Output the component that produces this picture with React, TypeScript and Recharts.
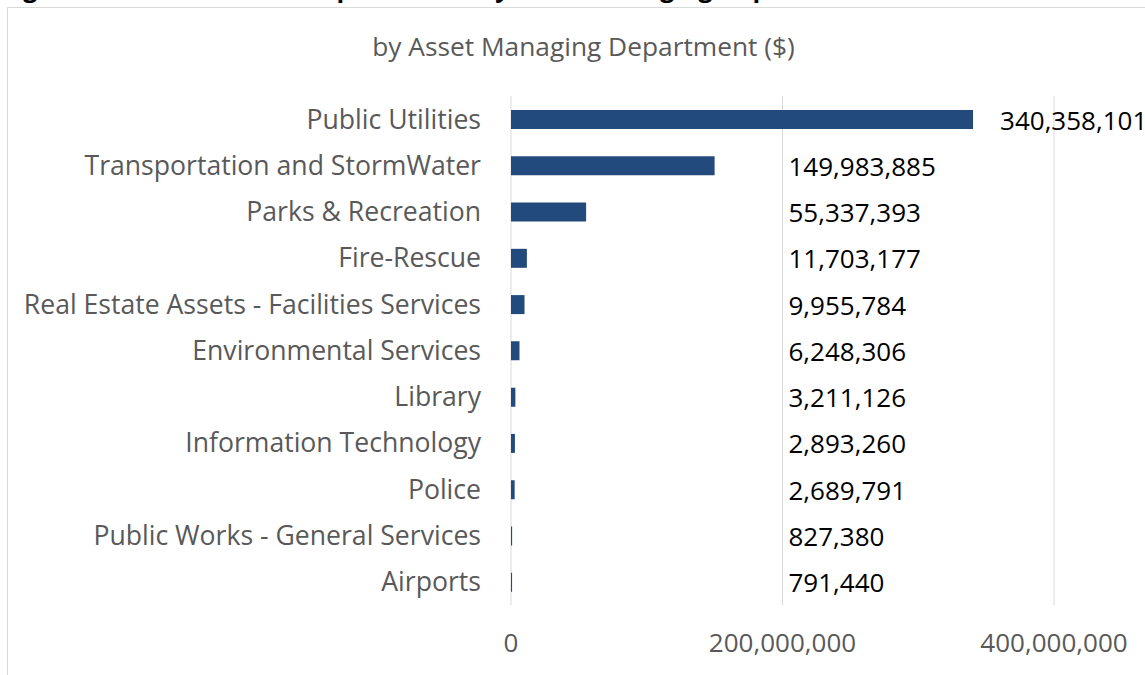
import React from "react";
import { BarChart, Bar, XAxis, YAxis, CartesianGrid, LabelList } from "recharts";

const departments = [
  "Public Utilities",
  "Transportation and StormWater",
  "Parks & Recreation",
  "Fire-Rescue",
  "Real Estate Assets - Facilities Services",
  "Environmental Services",
  "Library",
  "Information Technology",
  "Police",
  "Public Works - General Services",
  "Airports",
];

const amounts = [
  340358101, 149983885, 55337393, 11703177, 9955784, 6248306, 3211126, 2893260,
  2689791, 827380, 791440,
];

const xTicks = [0, 200000000, 400000000];

const data = departments.map((name, i) => ({ name, value: amounts[i] }));

const FONT = "'Open Sans', 'Noto Sans', sans-serif";
const GREY = "#595959";
const fmt = (v: number) => v.toLocaleString("en-US");

const ValueLabel = (props: any) => {
  const { x, y, width, height, value, index } = props;
  const pxPerUnit = width / value;
  const lx = index === 0 ? x + width + 27 : x + xTicks[1] * pxPerUnit + 6;
  return (
    <text
      x={lx}
      y={y + height / 2}
      dominantBaseline="central"
      fontFamily={FONT}
      fontSize={26}
      fill="#000000"
    >
      {fmt(value)}
    </text>
  );
};

export default function App() {
  return (
    <div
      style={{
        position: "absolute",
        left: 0,
        top: 0,
        width: 1145,
        height: 675,
        overflow: "hidden",
        background: "#ffffff",
      }}
    >
      <div
        style={{
          position: "absolute",
          left: 2,
          top: -28,
          fontFamily: FONT,
          fontWeight: 700,
          fontSize: 25,
          lineHeight: "30px",
          whiteSpace: "nowrap",
          color: "#000",
        }}
      >
        Figure 9: Estimated Cost Expenditures by Asset Managing Department
      </div>
      <div
        style={{
          position: "absolute",
          left: 7,
          top: 7,
          width: 1300,
          height: 900,
          border: "1px solid #d9d9d9",
        }}
      />
      <div
        style={{
          position: "absolute",
          left: 0,
          width: 1167,
          top: 28,
          textAlign: "center",
          fontFamily: FONT,
          fontSize: 26.3,
          color: GREY,
          whiteSpace: "nowrap",
        }}
      >
        by Asset Managing Department ($)
      </div>
      <div style={{ position: "absolute", left: 0, top: 0 }}>
        <BarChart
          width={1145}
          height={675}
          data={data}
          layout="vertical"
          margin={{ top: 96, right: 91, bottom: 40, left: 0 }}
          barSize={19}
        >
          <CartesianGrid horizontal={false} vertical={true} stroke="#d9d9d9" />
          <XAxis
            type="number"
            domain={[0, 400000000]}
            ticks={xTicks}
            tickFormatter={fmt}
            axisLine={false}
            tickLine={false}
            tickSize={0}
            tickMargin={29}
            height={30}
            tick={{ fill: GREY, fontSize: 26, fontFamily: FONT }}
          />
          <YAxis
            type="category"
            dataKey="name"
            width={511}
            axisLine={false}
            tickLine={false}
            tickSize={0}
            tickMargin={30}
            interval={0}
            tick={{ fill: GREY, fontSize: 26.6, fontFamily: FONT }}
          />
          <Bar dataKey="value" fill="#234a7c" isAnimationActive={false}>
            <LabelList dataKey="value" content={ValueLabel} />
          </Bar>
        </BarChart>
      </div>
    </div>
  );
}
